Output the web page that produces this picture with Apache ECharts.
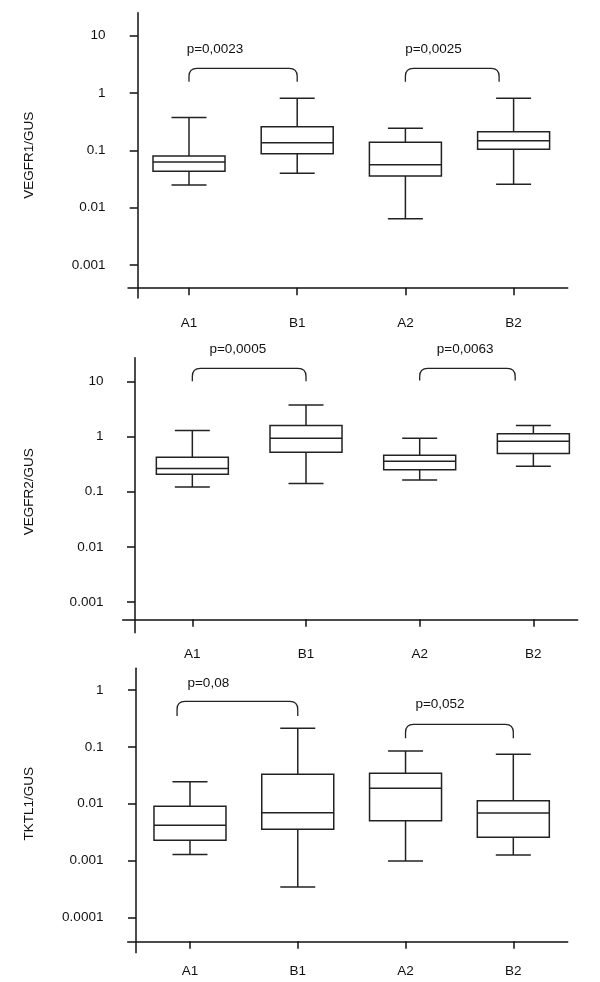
<!DOCTYPE html>
<html><head><meta charset="utf-8">
<script src="https://cdn.jsdelivr.net/npm/echarts@6/dist/echarts.min.js"></script>
<style>html,body{margin:0;padding:0;background:#fff}#c{width:600px;height:982px}</style>
</head><body><div id="c"></div>
<script>
// ---------- data ----------
const categories = ['A1', 'B1', 'A2', 'B2'];
// each box: [min, Q1, median, Q3, max]
const vegfr1 = [
  [0.0248, 0.043, 0.0626, 0.080, 0.376],
  [0.0397, 0.0875, 0.136, 0.259, 0.807],
  [0.00643, 0.0357, 0.0562, 0.138, 0.242],
  [0.0255, 0.104, 0.1475, 0.212, 0.807]
];
const vegfr2 = [
  [0.121, 0.207, 0.263, 0.422, 1.28],
  [0.141, 0.520, 0.933, 1.58, 3.70],
  [0.162, 0.249, 0.357, 0.459, 0.933],
  [0.290, 0.492, 0.823, 1.12, 1.58]
];
const tktl1 = [
  [0.00128, 0.00226, 0.00416, 0.00897, 0.0244],
  [0.000342, 0.00353, 0.00695, 0.0328, 0.212],
  [0.00098, 0.00502, 0.0186, 0.0342, 0.0845],
  [0.00125, 0.00256, 0.00686, 0.0113, 0.0738]
];
const yTicks1 = ['0.001', '0.01', '0.1', '1', '10'];
const yTicks2 = ['0.001', '0.01', '0.1', '1', '10'];
const yTicks3 = ['0.0001', '0.001', '0.01', '0.1', '1'];
const yNames = ['VEGFR1/GUS', 'VEGFR2/GUS', 'TKTL1/GUS'];
// comparisons: [fromIndex, toIndex, bracketTop, bracketEnd, labelIndex, labelValue]
const cmp1 = [[0, 1, 2.7, 1.58, 0.24, 5.85], [2, 2.866, 2.7, 1.58, 2.26, 5.85]];
const cmp2 = [[0, 1, 17.1, 10.07, 0.40, 38.3], [2, 2.84, 17.1, 10.3, 2.40, 38.3]];
const cmp3 = [[-0.12, 1, 0.632, 0.349, 0.17, 1.31], [2, 3, 0.249, 0.141, 2.32, 0.567]];
const pText1 = ['p=0,0023', 'p=0,0025'];
const pText2 = ['p=0,0005', 'p=0,0063'];
const pText3 = ['p=0,08', 'p=0,052'];

// ---------- style / layout ----------
const FONT = '"Liberation Sans", Arial, Helvetica, sans-serif';
const FS = 13.5;
const TXT = '#111';
const LINE = '#222';
const BOX_W = 72, CAP_W = 35, R = 8;

const layout = [
  { gA: {left: 134.9, right: 32.3, top: 35.7, bottom: 717}, yOff: -2.8, xOff: 22.7, xMargin: 28.3, yMargin: 32.2,
    gX: {left: 128, right: 32.3, top: 200, bottom: 694.3}, gY: {left: 137.7, top: 12.7, bottom: 684}, nameOn: 'Y', nameGap: 101 },
  { gA: {left: 135.5, right: 9.8, top: 381.3, bottom: 380}, yOff: 0.5, xOff: 17.3, xMargin: 28.3, yMargin: 31.6,
    gX: {left: 122.7, right: 22.3, top: 500, bottom: 362.7}, gY: {left: 135, top: 357.7, bottom: 349.3}, nameOn: 'A', nameGap: 98.6 },
  { gA: {left: 136.1, right: 32.8, top: 690, bottom: 64.7}, yOff: 0.1, xOff: 24, xMargin: 22.7, yMargin: 32.6,
    gX: {left: 127.7, right: 32.3, top: 800, bottom: 40.7}, gY: {left: 136, top: 668.3, bottom: 29.3}, nameOn: 'A', nameGap: 99.6 }
];
const boxes = [vegfr1, vegfr2, tktl1];
const ticks = [yTicks1, yTicks2, yTicks3];
const cmps = [cmp1, cmp2, cmp3];
const pTexts = [pText1, pText2, pText3];

function renderBox(params, api) {
  const i = api.value(0);
  const lo = api.coord([i, api.value(1)]);
  const q1 = api.coord([i, api.value(2)]);
  const md = api.coord([i, api.value(3)]);
  const q3 = api.coord([i, api.value(4)]);
  const hi = api.coord([i, api.value(5)]);
  const cx = lo[0], bw = BOX_W / 2, cw = CAP_W / 2;
  const st = {stroke: LINE, lineWidth: 1.5, fill: 'none'};
  return {type: 'group', children: [
    {type: 'line', shape: {x1: cx, y1: hi[1], x2: cx, y2: q3[1]}, style: st},
    {type: 'line', shape: {x1: cx, y1: q1[1], x2: cx, y2: lo[1]}, style: st},
    {type: 'line', shape: {x1: cx - cw, y1: hi[1], x2: cx + cw, y2: hi[1]}, style: st},
    {type: 'line', shape: {x1: cx - cw, y1: lo[1], x2: cx + cw, y2: lo[1]}, style: st},
    {type: 'rect', shape: {x: cx - bw, y: q3[1], width: 2 * bw, height: q1[1] - q3[1]}, style: {stroke: LINE, lineWidth: 1.5, fill: '#fff'}},
    {type: 'line', shape: {x1: cx - bw, y1: md[1], x2: cx + bw, y2: md[1]}, style: st}
  ]};
}

function makeBracket(texts) {
  return function (params, api) {
    const from = api.value(0), to = api.value(1), top = api.value(2), end = api.value(3);
    const lx = api.value(4), ly = api.value(5);
    const p0 = api.coord([0, top]), p1 = api.coord([1, top]);
    const band = p1[0] - p0[0];
    const xa = p0[0] + from * band, xb = p0[0] + to * band;
    const yt = p0[1], ye = api.coord([0, end])[1];
    const d = 'M' + xa + ' ' + ye + ' L' + xa + ' ' + (yt + R) + ' Q' + xa + ' ' + yt + ' ' + (xa + R) + ' ' + yt +
      ' L' + (xb - R) + ' ' + yt + ' Q' + xb + ' ' + yt + ' ' + xb + ' ' + (yt + R) + ' L' + xb + ' ' + ye;
    const lab = api.coord([0, ly]);
    return {type: 'group', children: [
      {type: 'path', shape: {pathData: d}, style: {stroke: LINE, lineWidth: 1.3, fill: 'none'}},
      {type: 'text', style: {text: texts[params.dataIndex], x: p0[0] + lx * band, y: lab[1], fill: TXT,
        fontSize: FS, fontFamily: FONT, align: 'center', verticalAlign: 'middle'}}
    ]};
  };
}

const grid = [], xAxis = [], yAxis = [], series = [];
layout.forEach((L, p) => {
  const base = grid.length;
  grid.push(Object.assign({outerBoundsMode: 'none', containLabel: false}, L.gA));
  grid.push(Object.assign({outerBoundsMode: 'none', containLabel: false}, L.gX));
  grid.push({outerBoundsMode: 'none', containLabel: false, left: L.gY.left, width: 20, top: L.gY.top, bottom: L.gY.bottom});
  const t = ticks[p];
  xAxis.push({gridIndex: base, type: 'category', data: categories, position: 'bottom', offset: L.xOff,
    axisLine: {show: false, onZero: false},
    axisTick: {show: true, alignWithLabel: true, length: 7.5, lineStyle: {color: TXT, width: 1.5}},
    axisLabel: {margin: L.xMargin, color: TXT, fontSize: FS, fontFamily: FONT},
    splitLine: {show: false}});
  yAxis.push({gridIndex: base, type: 'log', logBase: 10, min: Number(t[0]), max: Number(t[t.length - 1]),
    offset: L.yOff, position: 'left',
    name: L.nameOn === 'A' ? yNames[p] : '', nameLocation: 'middle', nameGap: L.nameGap,
    nameTextStyle: {color: TXT, fontSize: FS, fontFamily: FONT},
    axisLine: {show: false, onZero: false},
    axisTick: {show: true, length: 8, lineStyle: {color: TXT, width: 1.5}},
    axisLabel: {margin: L.yMargin, color: TXT, fontSize: FS, fontFamily: FONT,
      formatter: v => { const s = t.find(x => Math.abs(Math.log10(Number(x)) - Math.log10(v)) < 1e-6); return s || ''; }},
    splitLine: {show: false}});
  xAxis.push({gridIndex: base + 1, type: 'value', min: 0, max: 1, position: 'bottom',
    axisLine: {show: true, onZero: false, lineStyle: {color: TXT, width: 1.5}},
    axisTick: {show: false}, axisLabel: {show: false}, splitLine: {show: false}});
  yAxis.push({gridIndex: base + 1, type: 'value', show: false, min: 0, max: 1});
  xAxis.push({gridIndex: base + 2, type: 'value', show: false, min: 0, max: 1});
  yAxis.push({gridIndex: base + 2, type: 'value', min: 0, max: 1, position: 'left',
    name: L.nameOn === 'Y' ? yNames[p] : '', nameLocation: 'middle', nameGap: L.nameGap,
    nameTextStyle: {color: TXT, fontSize: FS, fontFamily: FONT},
    axisLine: {show: true, onZero: false, lineStyle: {color: TXT, width: 1.5}},
    axisTick: {show: false}, axisLabel: {show: false}, splitLine: {show: false}});
  series.push({type: 'custom', xAxisIndex: base, yAxisIndex: base, clip: false,
    renderItem: renderBox, encode: {x: 0, y: [1, 2, 3, 4, 5]},
    data: boxes[p].map((b, i) => [i].concat(b))});
  series.push({type: 'custom', xAxisIndex: base, yAxisIndex: base, clip: false,
    renderItem: makeBracket(pTexts[p]), encode: {x: 0, y: [2, 3]},
    data: cmps[p].map(c => c.slice())});
});

const chart = echarts.init(document.getElementById('c'), null, {renderer: 'canvas'});
chart.setOption({animation: false, backgroundColor: '#fff', grid, xAxis, yAxis, series});
</script></body></html>
